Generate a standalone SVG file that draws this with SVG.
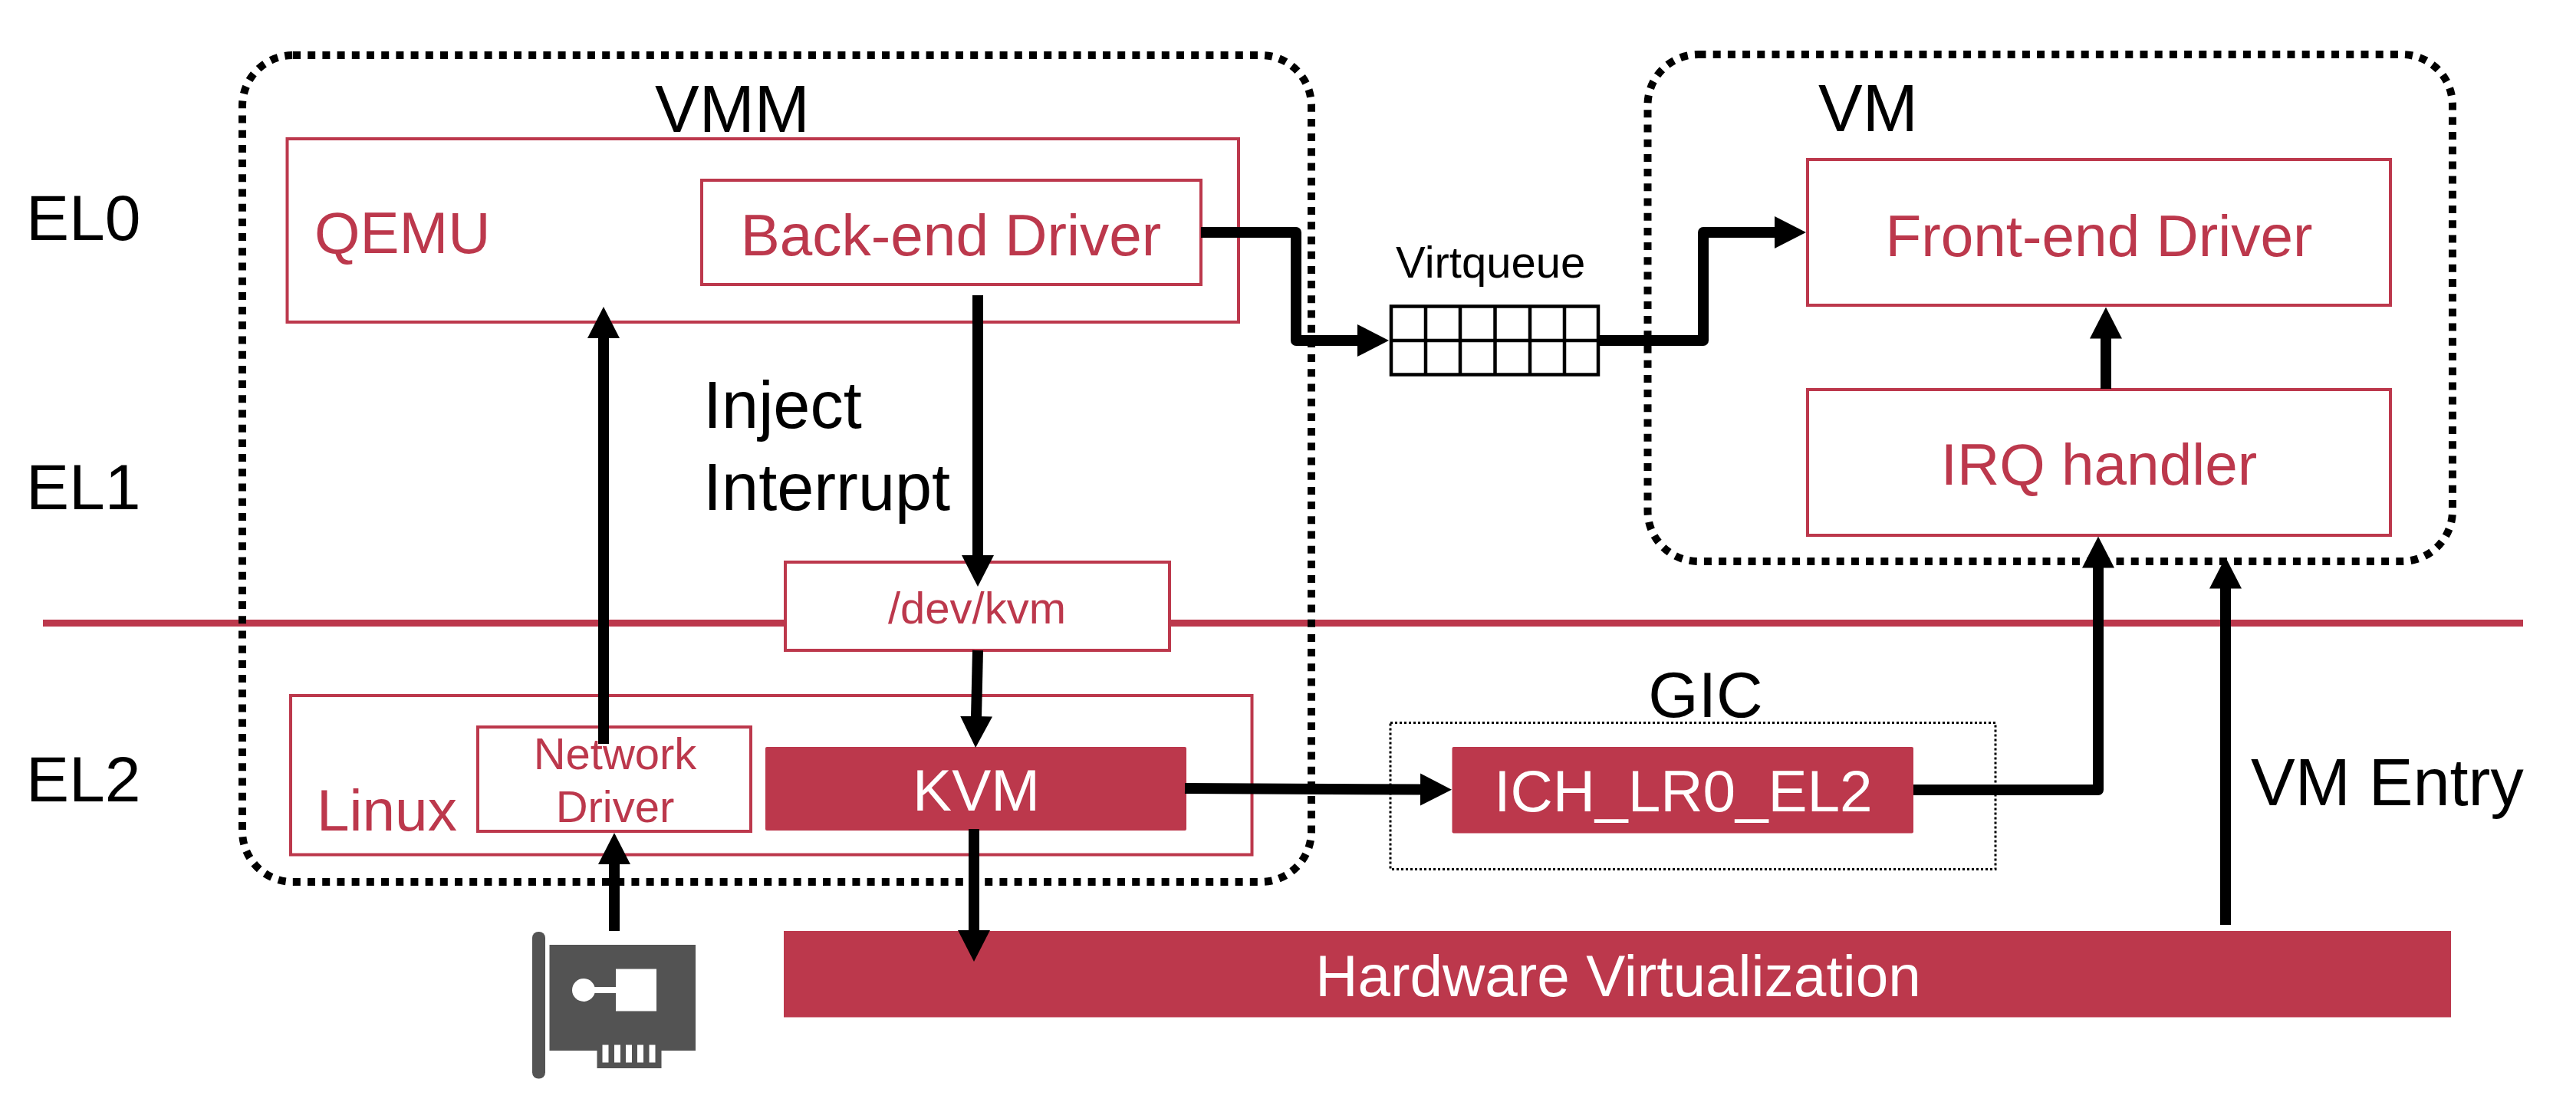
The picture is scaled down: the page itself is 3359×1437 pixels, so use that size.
<svg xmlns="http://www.w3.org/2000/svg" width="3359" height="1437" viewBox="0 0 3359 1437">
<style>
text{font-family:"Liberation Sans",Arial,sans-serif;fill:#000}
.f84{font-size:84px}.f86{font-size:86.500px}.f77{font-size:76.500px}.f58{font-size:58px}
.r{fill:#bc384c}.w{fill:#fff}.m{text-anchor:middle}
.box{fill:none;stroke:#bc384c;stroke-width:4}
.wbox{fill:#fff;stroke:#bc384c;stroke-width:4}
.solid{fill:#bc384c;stroke:none}
.dot{fill:none;stroke:#000;stroke-width:10;stroke-dasharray:10 9.2}
.wire{fill:none;stroke:#000;stroke-width:14;stroke-linejoin:round;marker-end:url(#head)}
.grid{fill:none;stroke:#000;stroke-width:4.5}
.icon{fill:#535353}
</style>
<defs>
<marker id="head" markerUnits="userSpaceOnUse" markerWidth="44" markerHeight="44" refX="1" refY="21" orient="auto" viewBox="0 0 44 42"><path d="M0 0L41 21L0 42Z" fill="#000"/></marker>
</defs>
<rect width="3359" height="1437" fill="#fff"/>
<g id="levels">
<text class="f84" x="34" y="313">EL0</text>
<text class="f84" x="34" y="664">EL1</text>
<text class="f84" x="34" y="1045">EL2</text>
<rect x="56" y="808" width="3234" height="9" fill="#bc384c"/>
</g>
<g id="vmm"><rect class="dot" x="316" y="72" width="1394" height="1078" rx="66" ry="66"/><text class="f86" x="854" y="172">VMM</text></g>
<g id="vm"><rect class="dot" x="2148.5" y="71" width="1049.5" height="661" rx="66" ry="66"/><text class="f86" x="2371" y="171">VM</text></g>
<g id="qemu"><rect class="box" x="374.5" y="181" width="1240.5" height="239"/><text class="f77 r" x="410" y="330">QEMU</text></g>
<g id="backend"><rect class="box" x="915" y="235" width="651" height="136"/><text class="f77 r m" x="1240" y="333">Back-end Driver</text></g>
<g id="frontend"><rect class="box" x="2357" y="208" width="760" height="190"/><text class="f77 r m" x="2737" y="334">Front-end Driver</text></g>
<g id="irq"><rect class="box" x="2357" y="508" width="760" height="190"/><text class="f77 r m" x="2737" y="632">IRQ handler</text></g>
<g id="devkvm"><rect class="wbox" x="1024" y="733" width="501" height="115"/><text class="f58 r m" x="1274" y="813">/dev/kvm</text></g>
<g id="linux"><rect class="box" x="379" y="907" width="1253.5" height="207.5"/><text class="f77 r" x="413" y="1083">Linux</text></g>
<g id="network-driver"><rect class="wbox" x="623" y="948" width="356" height="136"/><text class="f58 r m" x="802" y="1003">Network</text><text class="f58 r m" x="802" y="1071.500">Driver</text></g>
<g id="kvm"><rect class="solid" x="998" y="974" width="549" height="109" rx="2"/><text class="f77 w m" x="1273" y="1057">KVM</text></g>
<g id="gic"><rect x="1813" y="942.5" width="789" height="191" fill="none" stroke="#000" stroke-width="3" stroke-dasharray="3 3"/><text class="f84 m" x="2224" y="935">GIC</text></g>
<g id="ich"><rect class="solid" x="1893.5" y="974" width="601.5" height="112.5" rx="2"/><text class="f77 w m" x="2195" y="1058">ICH_LR0_EL2</text></g>
<g id="hardware"><rect class="solid" x="1022" y="1214" width="2174" height="112.5"/><text class="f77 w m" x="2110" y="1299">Hardware Virtualization</text></g>
<g id="virtqueue">
<text class="f58" x="1820" y="362">Virtqueue</text>
<rect class="grid" x="1814" y="399.5" width="270" height="89"/>
<path class="grid" d="M1814 444H2084M1859 399.5V488.5M1904 399.5V488.5M1949.500 399.5V488.5M1995 399.5V488.5M2040 399.5V488.5"/>
</g>
<g id="nic">
<rect class="icon" x="694" y="1215" width="17" height="191.500" rx="8"/>
<path class="icon" fill-rule="evenodd" d="M716.500 1232H907V1370H862.500V1393H778.500V1370H716.500ZM803 1263.500V1318.500H856V1263.500ZM785.500 1362.500V1385.500H793.500V1362.500ZM801 1362.500V1385.500H809V1362.500ZM816 1362.500V1385.500H824V1362.500ZM831 1362.500V1385.500H839V1362.500ZM846.500 1362.500V1385.500H854.500V1362.500Z"/>
<circle cx="761" cy="1291" r="15" fill="#fff"/>
<rect x="770" y="1287" width="34" height="8" fill="#fff"/>
</g>
<g id="connectors">
<path class="wire" d="M787 970V440"/>
<path class="wire" d="M801 1214V1126"/>
<path class="wire" d="M1275 385V725"/>
<path class="wire" d="M1275 848L1273 935"/>
<path class="wire" d="M1270 1081V1214"/>
<path class="wire" d="M1566 303H1690V444H1771"/>
<path class="wire" d="M2086 444H2221V303H2315"/>
<path class="wire" d="M1545 1028L1853 1029.500"/>
<path class="wire" d="M2495 1030H2736V739.500"/>
<path class="wire" d="M2746 507V440.500"/>
<path class="wire" d="M2902 1206V766.500"/>
</g>
<g id="labels">
<text class="f86" x="917" y="558">Inject</text>
<text class="f86" x="917" y="665">Interrupt</text>
<text class="f86" x="2935" y="1050">VM Entry</text>
</g>
</svg>
